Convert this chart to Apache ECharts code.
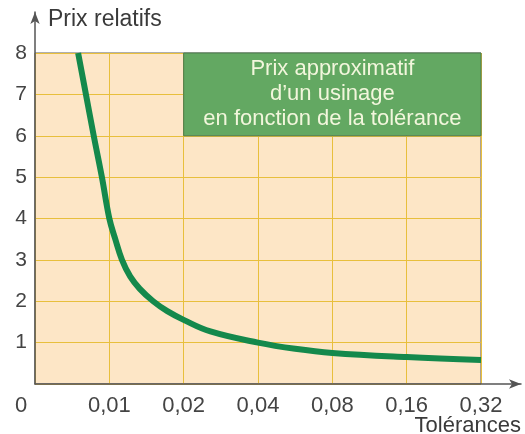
<!DOCTYPE html>
<html>
<head>
<meta charset="utf-8">
<script src="https://cdn.jsdelivr.net/npm/echarts@6/dist/echarts.min.js"></script>
<style>
  html, body { margin: 0; padding: 0; background: #ffffff; }
  #chart { width: 525px; height: 434px; }
</style>
</head>
<body>
<div id="chart"></div>
<script>
// Tolerance steps shown at equal spacing along the horizontal axis
const toleranceLabels = ['0', '0,01', '0,02', '0,04', '0,08', '0,16', '0,32'];
// Position of each curve point along that axis (in tolerance steps)
const curveSteps = [0.58, 0.685, 0.79, 0.90, 1.0, 1.08, 1.17, 1.28, 1.41, 1.59, 1.78, 2.0, 2.36, 3.0, 3.5, 4.0, 5.0, 6.0];
// Relative price at each point
const relativePrice = [8, 7, 6, 5, 4, 3.5, 3.0, 2.6, 2.3, 2.0, 1.76, 1.55, 1.27, 1.0, 0.85, 0.75, 0.65, 0.58];
// Caption box text
const captionLines = ['Prix approximatif', 'd\u2019un usinage', 'en fonction de la tolérance'];

const FONT = '"Liberation Sans", Arial, sans-serif';
const chart = echarts.init(document.getElementById('chart'), null, { renderer: 'canvas' });

chart.setOption({
  animation: false,
  backgroundColor: '#ffffff',
  grid: [
    { left: 35, right: 44, top: 53, bottom: 50, show: true, outerBoundsMode: 'none', containLabel: false,
      backgroundColor: '#fde6c6', borderColor: '#5e5e5e', borderWidth: 1 },
    { left: 35, right: 4, top: 12, bottom: 50, outerBoundsMode: 'none', containLabel: false }
  ],
  xAxis: [
    {
      gridIndex: 0, type: 'value', min: 0, max: 6, interval: 1,
      axisLine: { show: false }, axisTick: { show: false },
      splitLine: { show: true, lineStyle: { color: '#e8bf3c', width: 1 } },
      axisLabel: {
        margin: 11, fontFamily: FONT, fontSize: 22, color: '#444',
        formatter: v => (v === 0 ? '{o|0}' : toleranceLabels[v]),
        rich: { o: { fontFamily: FONT, fontSize: 22, color: '#444', padding: [0, 28, 0, 0] } }
      }
    },
    {
      gridIndex: 1, type: 'value', min: 0, max: 1,
      axisLine: { show: true, symbol: ['none', 'arrow'], symbolSize: [7, 12],
        lineStyle: { color: '#555', width: 1.5 } },
      axisTick: { show: false }, axisLabel: { show: false }, splitLine: { show: false },
      name: 'Tolérances', nameLocation: 'end', nameGap: 0,
      nameTextStyle: { fontFamily: FONT, fontSize: 22, color: '#3a3a3a',
        align: 'right', verticalAlign: 'top', padding: [31, 0, 0, 0] }
    }
  ],
  yAxis: [
    {
      gridIndex: 0, type: 'value', min: 0, max: 8, interval: 1,
      axisLine: { show: false }, axisTick: { show: false },
      splitLine: { show: true, lineStyle: { color: '#e8bf3c', width: 1 } },
      axisLabel: { margin: 8, fontFamily: FONT, fontSize: 21, color: '#444',
        formatter: v => (v === 0 ? '' : String(v)) }
    },
    {
      gridIndex: 1, type: 'value', min: 0, max: 1,
      axisLine: { show: true, symbol: ['none', 'arrow'], symbolSize: [7, 12],
        lineStyle: { color: '#555', width: 1.5 } },
      axisTick: { show: false }, axisLabel: { show: false }, splitLine: { show: false },
      name: 'Prix relatifs', nameLocation: 'end', nameGap: -8,
      nameTextStyle: { fontFamily: FONT, fontSize: 23, color: '#3a3a3a',
        align: 'left', verticalAlign: 'middle', padding: [0, 0, 0, 13] }
    }
  ],
  series: [
    {
      type: 'line', xAxisIndex: 0, yAxisIndex: 0,
      data: curveSteps.map((s, i) => [s, relativePrice[i]]),
      smooth: 0.4, showSymbol: false, clip: true,
      lineStyle: { color: '#14894c', width: 6, cap: 'butt' },
      markArea: {
        silent: true,
        itemStyle: { color: '#63a862', borderColor: '#4c7a4c', borderWidth: 1 },
        label: {
          show: true, position: 'inside', fontFamily: FONT, fontSize: 22,
          lineHeight: 25, color: '#f2f6dc', align: 'center',
          formatter: () => captionLines.join('\n')
        },
        data: [[{ coord: [2, 8] }, { coord: [6, 6] }]]
      }
    }
  ]
});
</script>
</body>
</html>
